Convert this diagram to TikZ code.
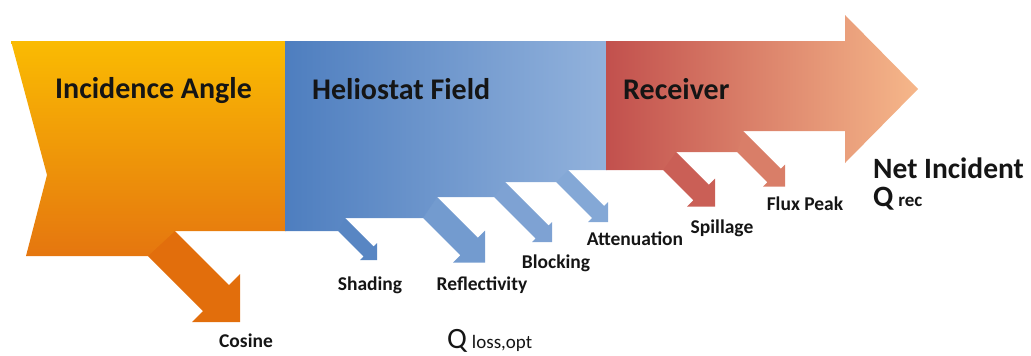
\documentclass[tikz,border=0pt]{standalone}
\usepackage{fontspec}
\setmainfont{Carlito}
\definecolor{orTop}{HTML}{FABB02}
\definecolor{orBot}{HTML}{E5760F}
\definecolor{orArr}{HTML}{E26E0C}
\definecolor{blL}{HTML}{4E7EBF}
\definecolor{blR}{HTML}{92B2DC}
\definecolor{rdL}{HTML}{C2504D}
\definecolor{rdR}{HTML}{F6B78A}
\definecolor{txt}{HTML}{151515}
\tikzset{
  title/.style={anchor=base west,inner sep=0pt,text=txt,font=\fontsize{30}{30}\selectfont\bfseries},
  loss/.style={anchor=base,inner sep=0pt,text=txt,font=\fontsize{19.5}{20}\selectfont\bfseries},
  big/.style={anchor=base west,inner sep=0pt,text=txt,font=\fontsize{29.5}{30}\selectfont},
}
\begin{document}
\begin{tikzpicture}[x=1pt,y=-1pt]
\useasboundingbox (0,0) rectangle (1031,356);
% loss arrows (drawn first, body covers their roots)
\fill[orArr] (142,250) -- (203,311) -- (192,322) -- (240,322) -- (240,274) -- (229,285) -- (169,225) -- cycle;
\fill[color=blL!85!blR] (332,225) -- (363.5,256.5) -- (360,260) -- (377,260) -- (377,243) -- (373.5,246.5) -- (339,212) -- cycle;
\fill[color=blL!45!blR] (417,212) -- (460.25,255.25) -- (453,262.5) -- (485,262.5) -- (485,230.5) -- (477.75,237.75) -- (431,191) -- cycle;
\fill[color=blL!30!blR] (488,191) -- (535.5,238.5) -- (532,242) -- (552,242) -- (552,222) -- (548.5,225.5) -- (499,176) -- cycle;
\fill[color=blL!20!blR] (550,176) -- (592,218) -- (588,222) -- (608,222) -- (608,202) -- (604,206) -- (562,164) -- cycle;
\fill[color=rdL!85!rdR] (657,164) -- (693.25,200.25) -- (687,206.5) -- (715,206.5) -- (715,178.5) -- (708.75,184.75) -- (670,146) -- cycle;
\fill[color=rdL!55!rdR] (731,146) -- (767.25,182.25) -- (763,186.5) -- (785,186.5) -- (785,164.5) -- (780.75,168.75) -- (737,125) -- cycle;
% main body
\path[top color=orTop,bottom color=orBot] (11,41) -- (286,41) -- (286,231) -- (175,231) -- (148,256) -- (26,256) -- (47,175) -- cycle;
\path[left color=blL,right color=blR] (285,41) -- (607,41) -- (607,170) -- (568,170) -- (556,182) -- (505,182) -- (494,197) -- (437,197) -- (423,218) -- (345,218) -- (338,231) -- (285,231) -- cycle;
\path[left color=rdL,right color=rdR] (606,41) -- (845,41) -- (845,15) -- (918,89) -- (845,163) -- (845,131) -- (743,131) -- (737,152) -- (676,152) -- (663,170) -- (606,170) -- cycle;
% titles
\node[title] (tA) at (55,98) {Incidence Angle};
\node[title] (tH) at (312,99) {Heliostat Field};
\node[title] (tR) at (623,99) {Receiver};
% loss labels
\node[loss] (lC) at (246,347) {Cosine};
\node[loss] (lS) at (370,290) {Shading};
\node[loss] (lRf) at (482,290) {Reflectivity};
\node[loss] (lB) at (556,268) {Blocking};
\node[loss] (lAt) at (635,245) {Attenuation};
\node[loss] (lSp) at (722,233) {Spillage};
\node[loss] (lF) at (805,210) {Flux Peak};
% outputs
\node[big,font=\fontsize{29.5}{30}\selectfont\bfseries] (net) at (873,178) {Net Incident};
\node[big,font=\fontsize{29.5}{30}\selectfont\bfseries] (qrec) at (873,206) {Q\,{\fontsize{19}{19}\selectfont rec}};
\node[big] (qloss) at (447,348) {Q\,{\fontsize{19}{19}\selectfont loss,opt}};
\end{tikzpicture}
\end{document}
